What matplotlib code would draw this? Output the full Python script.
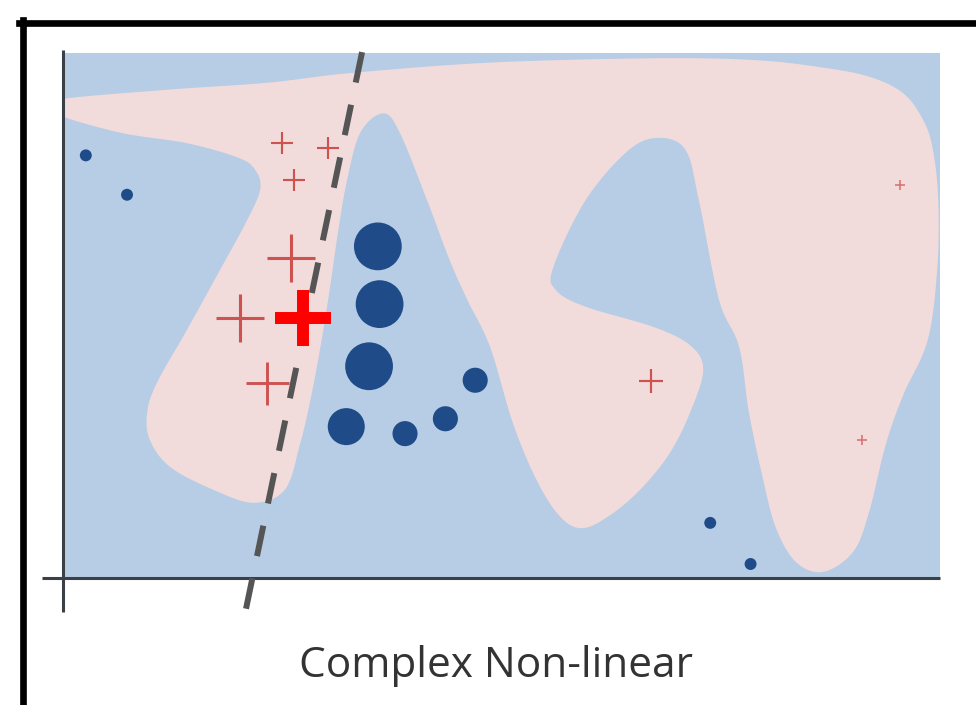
import matplotlib
matplotlib.use('Agg')
import matplotlib.pyplot as plt
from matplotlib.lines import Line2D
import numpy as np

# outline of the "+" class region (data units)
region_x = [-0.09, 1.19, 2.33, 3.27, 4.87, 6.73, 7.87, 8.62, 9.19, 9.58, 9.81, 9.92,
            9.98, 9.97, 9.86, 9.58, 9.38, 9.19, 9.01, 8.67, 8.36, 8.13, 7.98, 7.82,
            7.71, 7.48, 7.25, 7.10, 6.80, 6.45, 5.96, 5.59, 5.62, 5.96, 6.73, 7.15,
            7.30, 7.15, 6.92, 6.61, 6.27, 5.93, 5.67, 5.40, 5.13, 4.87, 4.61, 4.41,
            4.15, 3.84, 3.65, 3.39, 3.24, 3.14, 3.04, 2.93, 2.82, 2.70, 2.53, 2.17,
            1.71, 1.22, 0.99, 0.96, 1.07, 1.41, 1.79, 2.10, 2.25, 2.18, 1.98, 1.41,
            0.65, -0.09]
region_y = [5.46, 5.58, 5.66, 5.77, 5.89, 5.94, 5.92, 5.84, 5.73, 5.54, 5.23, 4.89,
            4.32, 3.55, 2.72, 2.09, 1.52, 0.75, 0.30, 0.07, 0.18, 0.57, 1.14, 1.90,
            2.64, 3.18, 4.32, 4.89, 5.03, 4.89, 4.32, 3.55, 3.29, 3.10, 2.87, 2.66,
            2.38, 1.89, 1.43, 1.04, 0.74, 0.57, 0.70, 1.12, 1.77, 2.64, 3.18, 3.63,
            4.32, 5.09, 5.31, 5.09, 4.55, 3.98, 3.29, 2.61, 2.03, 1.52, 1.01, 0.86,
            1.01, 1.27, 1.58, 1.89, 2.23, 2.83, 3.52, 4.09, 4.45, 4.68, 4.81, 4.97,
            5.09, 5.31]

# negative class (circles)
neg_x = [0.26, 0.73, 3.59, 3.61, 3.49, 3.23, 3.90, 4.36, 4.70, 7.38, 7.84]
neg_y = [4.83, 4.38, 3.79, 3.13, 2.42, 1.73, 1.65, 1.82, 2.26, 0.63, 0.16]
neg_w = [1.0, 1.0, 4.0, 4.0, 4.0, 3.1, 2.1, 2.1, 2.1, 1.0, 1.0]

# positive class (plus signs)
pos_x = [2.50, 3.02, 2.63, 2.60, 2.02, 2.33, 6.70, 9.54, 9.11]
pos_y = [4.97, 4.91, 4.55, 3.66, 2.97, 2.23, 2.25, 4.49, 1.58]
pos_w = [1.9, 1.9, 1.9, 4.0, 4.0, 3.6, 2.0, 0.8, 0.8]

# highlighted point
hi_x, hi_y = 2.74, 2.97

# linear boundary: x = b0 + b1 * y
b0, b1 = 2.16, 0.208
line_y = np.array([6.01, -0.39])

blue_bg = '#b6cde5'
pink = '#f2dbdb'
dark_blue = '#1f4c88'
red = '#cd5250'


def smooth_closed(x, y, n=24):
    p = np.column_stack([x, y])
    N = len(p)
    t = np.linspace(0, 1, n, endpoint=False)[:, None]
    out = []
    for i in range(N):
        p0, p1, p2, p3 = p[i - 1], p[i], p[(i + 1) % N], p[(i + 2) % N]
        out.append(0.5 * (2 * p1 + (-p0 + p2) * t
                          + (2 * p0 - 5 * p1 + 4 * p2 - p3) * t ** 2
                          + (-p0 + 3 * p1 - 3 * p2 + p3) * t ** 3))
    return np.vstack(out)


fig = plt.figure(figsize=(9.76, 7.05), dpi=100)
ax = fig.add_axes([63 / 976, 127 / 705, 877 / 976, 525 / 705])
ax.set_xlim(0, 10)
ax.set_ylim(0, 6)
ax.set_facecolor(blue_bg)
for s in ax.spines.values():
    s.set_visible(False)
ax.set_xticks([])
ax.set_yticks([])

# pink region
pts = smooth_closed(region_x, region_y)
ax.fill(pts[:, 0], pts[:, 1], color=pink, lw=0, zorder=1)

# axes lines
ax.plot([0, 0], [-0.39, 6.03], color='#3b4048', lw=2.2, clip_on=False, zorder=2,
        solid_capstyle='butt')
ax.plot([-0.24, 10], [0, 0], color='#3b4048', lw=2.2, clip_on=False, zorder=2,
        solid_capstyle='butt')

# plus markers
for x, y, w in zip(pos_x, pos_y, pos_w):
    a = 0.75 if w < 1 else 1.0
    ax.plot(x, y, marker='+', ms=8.6 * w, mew=0.9 + 0.33 * w, color=red,
            alpha=a, zorder=3, clip_on=False)

# dashed boundary
ax.plot(b0 + b1 * line_y, line_y, color='#555555', lw=4.3,
        linestyle=(0, (5.2, 3.8)), clip_on=False, zorder=4)

# circles
ax.scatter(neg_x, neg_y, s=(8.6 * np.array(neg_w)) ** 2, color=dark_blue,
           edgecolors='none', zorder=5, clip_on=False)

# highlighted plus
ax.plot(hi_x, hi_y, marker='+', ms=41, mew=8.6, color='#ff0000', zorder=6)

# frame
fig.add_artist(Line2D([19 / 976, 1], [1 - 23 / 705] * 2, color='black', lw=4.8,
                      transform=fig.transFigure))
fig.add_artist(Line2D([22.5 / 976] * 2, [0, 1 - 20 / 705], color='black', lw=4.8,
                      transform=fig.transFigure))

fig.text(496 / 976, 1 - 666 / 705, 'Complex Non-linear', ha='center', va='center',
         fontsize=30.5, family='Open Sans', color='#333333')

plt.savefig('out.png', dpi=100)
